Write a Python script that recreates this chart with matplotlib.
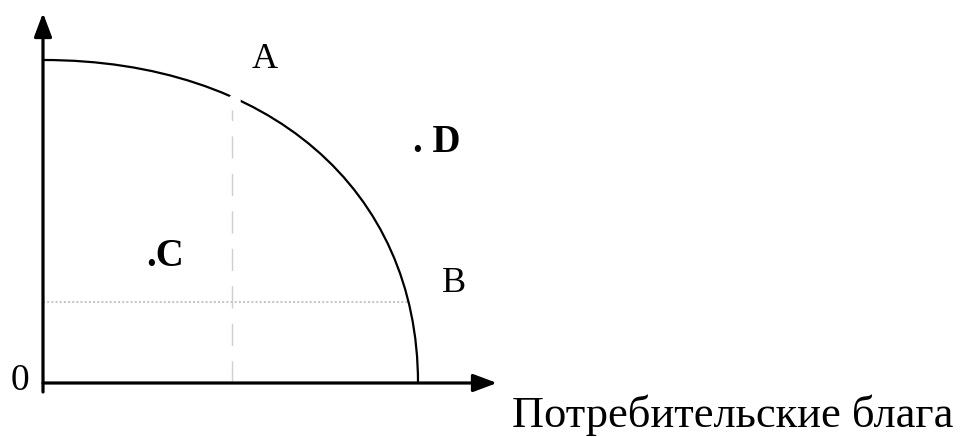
# -*- coding: utf-8 -*-
"""Production possibility frontier sketch (points A, B, C, D)."""

import matplotlib
matplotlib.use("Agg")
import matplotlib.pyplot as plt
from matplotlib.path import Path
from matplotlib.patches import PathPatch

plt.rcParams['font.family'] = ['Liberation Serif', 'DejaVu Serif']

# ─── Values (diagram units, origin at the axes corner) ───
ppf_x_max = 375          # intercept on the consumer-goods axis
ppf_y_max = 323          # intercept on the vertical axis
ppf_bulge = 0.60         # bezier handle factor (0.55 ~ ellipse)

point_A = (191, 283)     # on the frontier, with the small break
point_B = (367, 81)      # on the frontier, horizontal guide
x_axis_end = 454
y_axis_end = 370

labels = {
    'A': (222, 324),
    'B': (411, 99),
    '.C': (122, 126),
    '. D': (394, 240),
}
bold_labels = {'.C', '. D'}
x_title = 'Потребительские блага'

fig = plt.figure(figsize=(9.7, 4.37), dpi=100)
ax = fig.add_axes([0, 0, 1, 1])
ax.set_xlim(-43, 927)
ax.set_ylim(-54, 383)
ax.axis('off')

# ─── Axes with arrow heads ───
arrow_kw = dict(arrowstyle='-|>,head_length=0.8,head_width=0.3',
                lw=2.3, color='black', mutation_scale=18,
                shrinkA=0, shrinkB=0)
ax.annotate('', xy=(x_axis_end, 0), xytext=(0, 0), arrowprops=arrow_kw)
ax.annotate('', xy=(0, y_axis_end), xytext=(0, -9), arrowprops=arrow_kw)

# ─── Frontier: one cubic bezier from (0, y_max) to (x_max, 0) ───
a, b, k = ppf_x_max, ppf_y_max, ppf_bulge
verts = [(0, b), (k * a, b), (a, k * b), (a, 0)]
codes = [Path.MOVETO, Path.CURVE4, Path.CURVE4, Path.CURVE4]
ax.add_patch(PathPatch(Path(verts, codes), fill=False, lw=1.6,
                       edgecolor='black', zorder=3))

# small break in the curve at A
ax.plot(*point_A, 'o', ms=9, color='white', mec='none', zorder=4)

# ─── Dotted guides ───
ax.plot([point_A[0] - 2, point_A[0] - 2], [0, point_A[1] - 10],
        color='#cfcfcf', lw=1.0, dashes=(16, 11), zorder=2)
ax.plot([0, point_B[0]], [point_B[1], point_B[1]],
        color='#c8c8c8', lw=1.5, linestyle=(0, (1, 1)), zorder=2)

# ─── Text ───
for txt, (tx, ty) in labels.items():
    bold = txt in bold_labels
    ax.text(tx, ty, txt, fontsize=28 if bold else 26, ha='center',
            va='center', fontweight='bold' if bold else 'normal')
ax.text(-23, 2, '0', fontsize=27, ha='center', va='center')
ax.text(469, -44, x_title, fontsize=32, ha='left', va='baseline')

fig.savefig('out.png', dpi=100)
